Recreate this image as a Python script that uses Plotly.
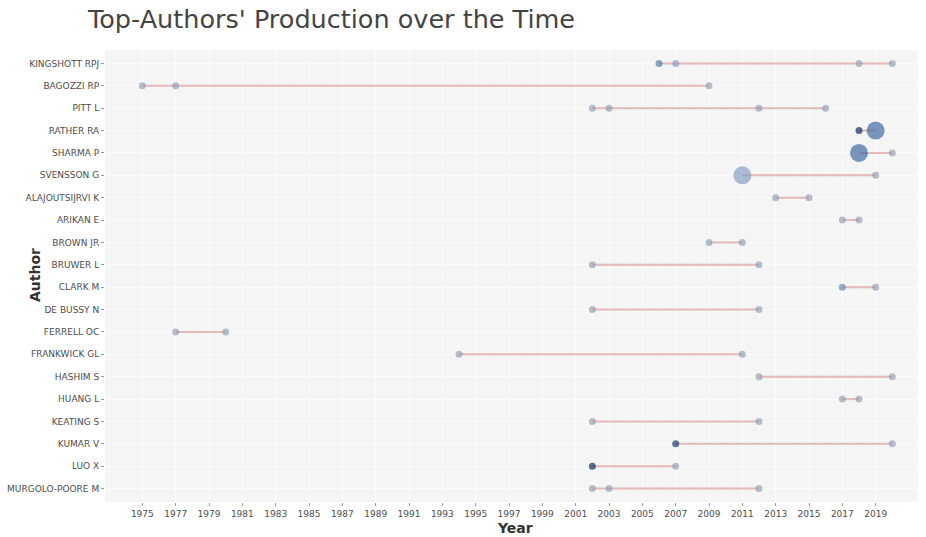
import plotly.graph_objects as go

# Authors in display order (top to bottom)
authors = [
    "KINGSHOTT RPJ", "BAGOZZI RP", "PITT L", "RATHER RA", "SHARMA P",
    "SVENSSON G", "ALAJOUTSIJRVI K", "ARIKAN E", "BROWN JR", "BRUWER L",
    "CLARK M", "DE BUSSY N", "FERRELL OC", "FRANKWICK GL", "HASHIM S",
    "HUANG L", "KEATING S", "KUMAR V", "LUO X", "MURGOLO-POORE M",
]

# One entry per author-year: publication year, number of articles, citations per year
point_author = [
    "KINGSHOTT RPJ", "KINGSHOTT RPJ", "KINGSHOTT RPJ", "KINGSHOTT RPJ",
    "BAGOZZI RP", "BAGOZZI RP", "BAGOZZI RP",
    "PITT L", "PITT L", "PITT L", "PITT L",
    "RATHER RA", "RATHER RA",
    "SHARMA P", "SHARMA P",
    "SVENSSON G", "SVENSSON G",
    "ALAJOUTSIJRVI K", "ALAJOUTSIJRVI K",
    "ARIKAN E", "ARIKAN E",
    "BROWN JR", "BROWN JR",
    "BRUWER L", "BRUWER L",
    "CLARK M", "CLARK M",
    "DE BUSSY N", "DE BUSSY N",
    "FERRELL OC", "FERRELL OC",
    "FRANKWICK GL", "FRANKWICK GL",
    "HASHIM S", "HASHIM S",
    "HUANG L", "HUANG L",
    "KEATING S", "KEATING S",
    "KUMAR V", "KUMAR V",
    "LUO X", "LUO X",
    "MURGOLO-POORE M", "MURGOLO-POORE M", "MURGOLO-POORE M",
]
point_year = [
    2006, 2007, 2018, 2020,
    1975, 1977, 2009,
    2002, 2003, 2012, 2016,
    2018, 2019,
    2018, 2020,
    2011, 2019,
    2013, 2015,
    2017, 2018,
    2009, 2011,
    2002, 2012,
    2017, 2019,
    2002, 2012,
    1977, 1980,
    1994, 2011,
    2012, 2020,
    2017, 2018,
    2002, 2012,
    2007, 2020,
    2002, 2007,
    2002, 2003, 2012,
]
point_freq = [
    1, 1, 1, 1,
    1, 1, 1,
    1, 1, 1, 1,
    1, 3,
    3, 1,
    3, 1,
    1, 1,
    1, 1,
    1, 1,
    1, 1,
    1, 1,
    1, 1,
    1, 1,
    1, 1,
    1, 1,
    1, 1,
    1, 1,
    1, 1,
    1, 1,
    1, 1, 1,
]
point_tcpy = [
    17, 9, 4, 3,
    4, 4.5, 3,
    3, 4, 4, 3,
    30, 21,
    21, 4,
    9, 3,
    4, 3,
    3, 3,
    5, 4,
    3, 4,
    14, 4,
    3, 3,
    3, 3,
    3, 4,
    3, 3,
    3, 3,
    3, 3,
    28, 4,
    30, 4,
    3, 4, 3,
]

x_ticks = list(range(1975, 2020, 2))

# Segments spanning each author's first to last year
line_x, line_y = [], []
for a in authors:
    ys = [y for pa, y in zip(point_author, point_year) if pa == a]
    line_x += [min(ys), max(ys), None]
    line_y += [a, a, None]

sizes = [7 + (f - 1) * 5.5 for f in point_freq]

# Citations-per-year shading: pale grey-blue for few citations, deep navy for many
tc_scale = [
    [0.0, "rgba(140,152,174,0.88)"],
    [0.22, "rgba(122,154,194,0.9)"],
    [0.65, "rgba(58,104,160,0.95)"],
    [1.0, "rgba(16,46,96,1)"],
]

fig = go.Figure()
fig.add_trace(go.Scatter(
    x=line_x, y=line_y, mode="lines",
    line=dict(color="rgba(178,34,34,0.3)", width=2),
    hoverinfo="skip", showlegend=False,
))
fig.add_trace(go.Scatter(
    x=point_year, y=point_author, mode="markers",
    marker=dict(size=sizes, color=point_tcpy, colorscale=tc_scale,
                cmin=min(point_tcpy), cmax=max(point_tcpy),
                showscale=False, line=dict(width=0)),
    showlegend=False,
))

fig.update_layout(
    width=926, height=537,
    margin=dict(l=105, r=8, t=50, b=35),
    paper_bgcolor="white",
    plot_bgcolor="#F5F5F5",
    font=dict(family="DejaVu Sans", color="#4D4D4D"),
    title=dict(
        text="Top-Authors' Production over the Time",
        x=88 / 926, xref="container", xanchor="left",
        y=1 - 19 / 537, yref="container", yanchor="middle",
        font=dict(size=25.5, color="#444444", family="DejaVu Sans"),
    ),
    annotations=[
        dict(text="<b>Year</b>", xref="paper", yref="paper", x=(515 - 105) / 813,
             y=-(528 - 502) / 452, xanchor="center", yanchor="middle",
             showarrow=False, font=dict(size=14, color="#333333")),
        dict(text="<b>Author</b>", xref="paper", yref="paper", x=-(105 - 35) / 813,
             y=(502 - 275) / 452, xanchor="center", yanchor="middle", textangle=-90,
             showarrow=False, font=dict(size=14, color="#333333")),
    ],
)
fig.update_xaxes(
    range=[1972.76, 2021.54], automargin=False,
    tickvals=x_ticks, ticktext=[str(v) for v in x_ticks],
    tickfont=dict(size=9, color="#4D4D4D"),
    ticks="outside", ticklen=3, tickcolor="#999999",
    showgrid=True, gridcolor="#FCFCFC", gridwidth=1,
    minor=dict(dtick=1, tick0=1976, showgrid=True, gridcolor="#F9F9F9", gridwidth=1),
    zeroline=False, showline=False,
)
fig.update_yaxes(
    categoryorder="array", categoryarray=authors, automargin=False,
    range=[len(authors) - 0.4, -0.6],
    tickfont=dict(size=9, color="#4D4D4D"),
    ticks="outside", ticklen=3, tickcolor="#999999",
    showgrid=True, gridcolor="#FCFCFC", gridwidth=1,
    zeroline=False, showline=False,
)

fig.write_html("out.html")
